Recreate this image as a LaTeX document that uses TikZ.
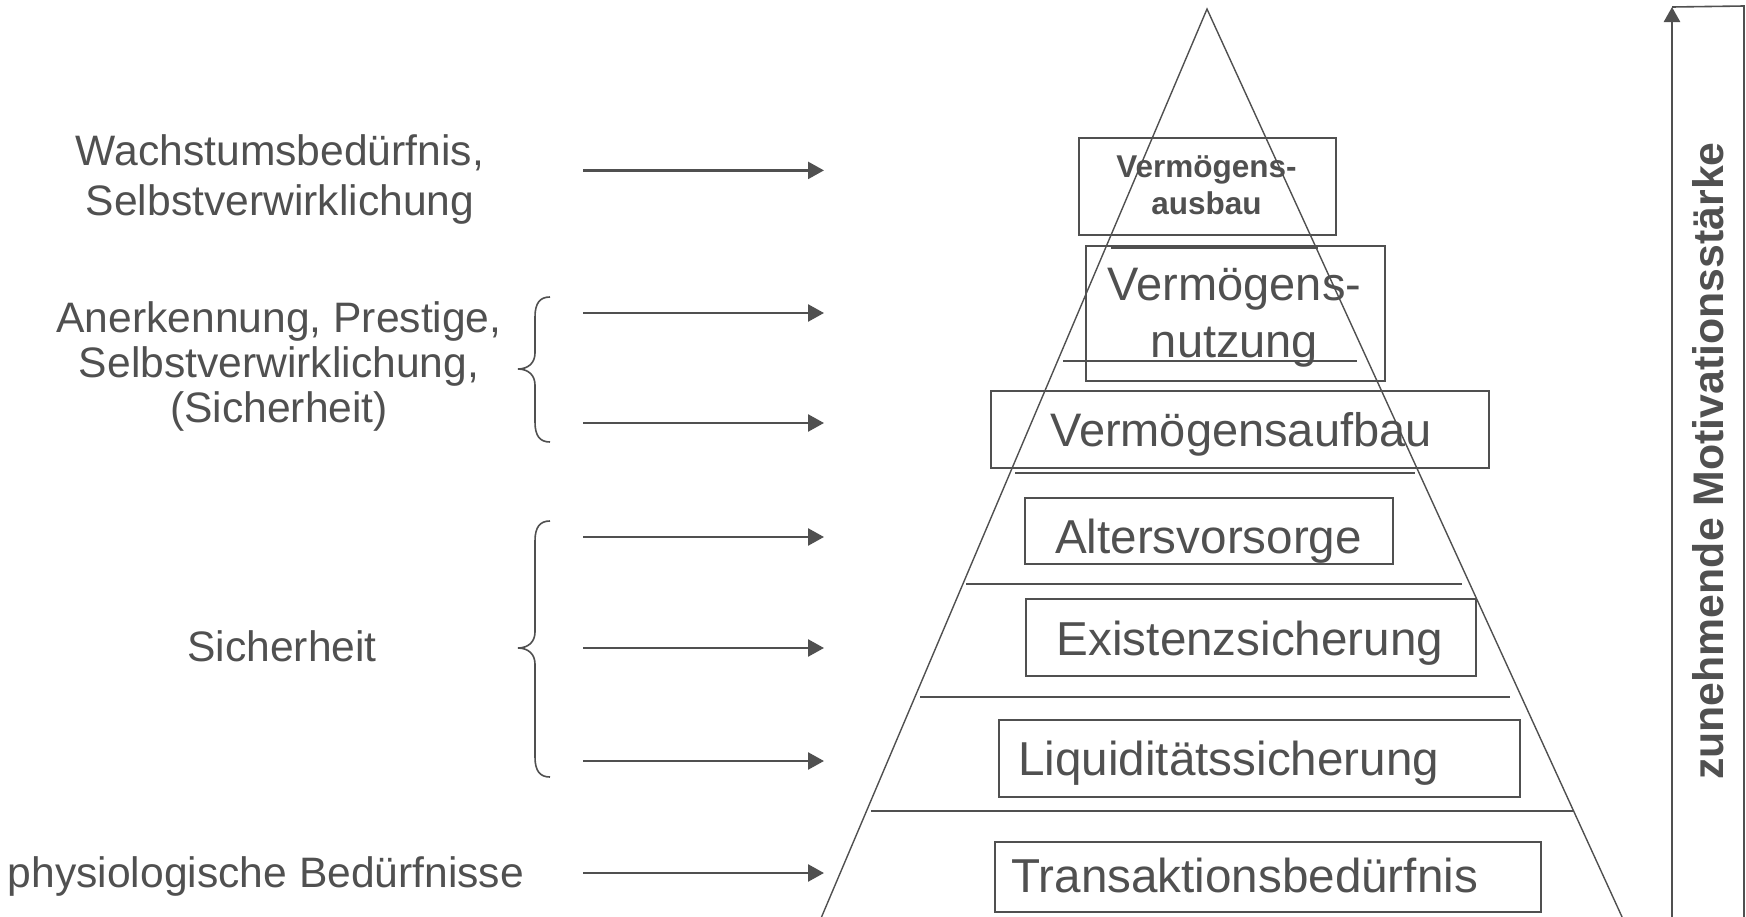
\documentclass[tikz,border=0pt]{standalone}
\usepackage{fontspec}
\setmainfont{Liberation Sans}
\usetikzlibrary{arrows.meta}
\definecolor{inkc}{RGB}{80,80,80}
\begin{document}
\begin{tikzpicture}[x=0.5pt, y=-0.5pt,
  lvl/.style={draw=inkc, line width=1pt, inner sep=0pt, anchor=north west},
  lvltext/.style={text=inkc, font=\fontsize{23.8}{28.3}\selectfont, inner sep=0pt, align=center},
  need/.style={text=inkc, font=\fontsize{21.3}{25}\selectfont, inner sep=0pt, align=center},
  feed/.style={draw=inkc, line width=1.25pt, -{Triangle[length=8pt,width=8.5pt]}},
  bracepath/.style={draw=inkc, line width=0.8pt},
  layer/.style={draw=inkc, line width=1pt},
  slope/.style={draw=inkc, line width=0.7pt}]
\useasboundingbox (0,0) rectangle (1746,916);

% pyramid outline
\coordinate (apex) at (1207,9);
\coordinate (baseL) at (816,930);
\coordinate (baseR) at (1628,930);
\draw[slope] (baseL) -- (apex) -- (baseR);

% layer separators
\foreach \y/\xa/\xb in {248/1111/1318, 361/1063/1357, 473/1015/1415,
                        583.5/966/1462, 697/920/1510, 810.6/871/1573}
  \draw[layer] (\xa,\y) -- (\xb,\y);

% level boxes
\node[lvl, minimum width=128.5pt, minimum height=48.5pt] (bAusbau)  at (1078,137) {};
\node[lvl, minimum width=149.5pt, minimum height=67.5pt] (bNutzung) at (1085,245) {};
\node[lvl, minimum width=249pt,   minimum height=38.5pt] (bAufbau)  at (990,390) {};
\node[lvl, minimum width=184pt,   minimum height=33pt]   (bAlter)   at (1024,497) {};
\node[lvl, minimum width=225pt,   minimum height=38.5pt] (bExist)   at (1025,598) {};
\node[lvl, minimum width=260.5pt, minimum height=38.5pt] (bLiqui)   at (998,719) {};
\node[lvl, minimum width=273pt,   minimum height=35pt]   (bTrans)   at (994,841) {};

% level labels
\node[lvltext, font=\bfseries\fontsize{15.75}{18.35}\selectfont] (tAusbau) at (1206.5,185) {Vermögens-\\ausbau};
\node[lvltext, font=\fontsize{23.5}{28.3}\selectfont] (tNutzung) at (1234.5,318) {Vermögens-\\nutzung};
\node[lvltext, font=\fontsize{23.5}{28.3}\selectfont, anchor=base] (tAufbau) at (1241,446.7) {Vermögensaufbau};
\node[lvltext, anchor=base] (tAlter) at (1208.5,553) {Altersvorsorge};
\node[lvltext, anchor=base] (tExist) at (1250,655) {Existenzsicherung};
\node[lvltext, anchor=base west] (tLiqui) at (1018,775) {Liquiditätssicherung};
\node[lvltext, anchor=base west] (tTrans) at (1011,892) {Transaktionsbedürfnis};

% needs on the left
\node[need] (nWachs) at (280,179) {Wachstumsbedürfnis,\\Selbstverwirklichung};
\node[need, font=\fontsize{21.3}{22.5}\selectfont] (nAnerk) at (279,366) {Anerkennung, Prestige,\\Selbstverwirklichung,\\(Sicherheit)};
\node[need, anchor=base] (nSich) at (282,661) {Sicherheit};
\node[need, anchor=base] (nPhys) at (266,887) {physiologische Bedürfnisse};

% braces
\draw[bracepath] (550,297) .. controls (540,297) and (535,303) .. (535,317)
  -- (535,353) .. controls (535,363) and (528,369) .. (518,369)
  .. controls (528,369) and (535,375) .. (535,385)
  -- (535,422) .. controls (535,436) and (540,442) .. (550,442);
\draw[bracepath] (550,521) .. controls (540,521) and (535,527) .. (535,541)
  -- (535,632) .. controls (535,642) and (528,648) .. (518,648)
  .. controls (528,648) and (535,654) .. (535,664)
  -- (535,757) .. controls (535,771) and (540,777) .. (550,777);

% arrows towards the pyramid
\foreach \i/\y in {1/170.4, 2/313, 3/423, 4/537, 5/648, 6/761, 7/873} {
  \coordinate (a\i) at (583,\y);
  \coordinate (e\i) at (824,\y);
  \draw[feed] (a\i) -- (e\i);
}

% motivation axis
\coordinate (mBot) at (1672,930);
\coordinate (mTop) at (1672,7);
\coordinate (fTop) at (1744,6);
\coordinate (fBot) at (1744,930);
\draw[draw=inkc, line width=0.8pt] (mTop) -- (fTop) -- (fBot);
\draw[draw=inkc, line width=1.3pt, -{Triangle[length=7.5pt,width=8pt]}] (mBot) -- (mTop);
\node[text=inkc, font=\bfseries\fontsize{21.4}{24}\selectfont, rotate=90, anchor=base, inner sep=0pt]
  (mLabel) at (1723,461) {zunehmende Motivationsstärke};
\end{tikzpicture}
\end{document}
